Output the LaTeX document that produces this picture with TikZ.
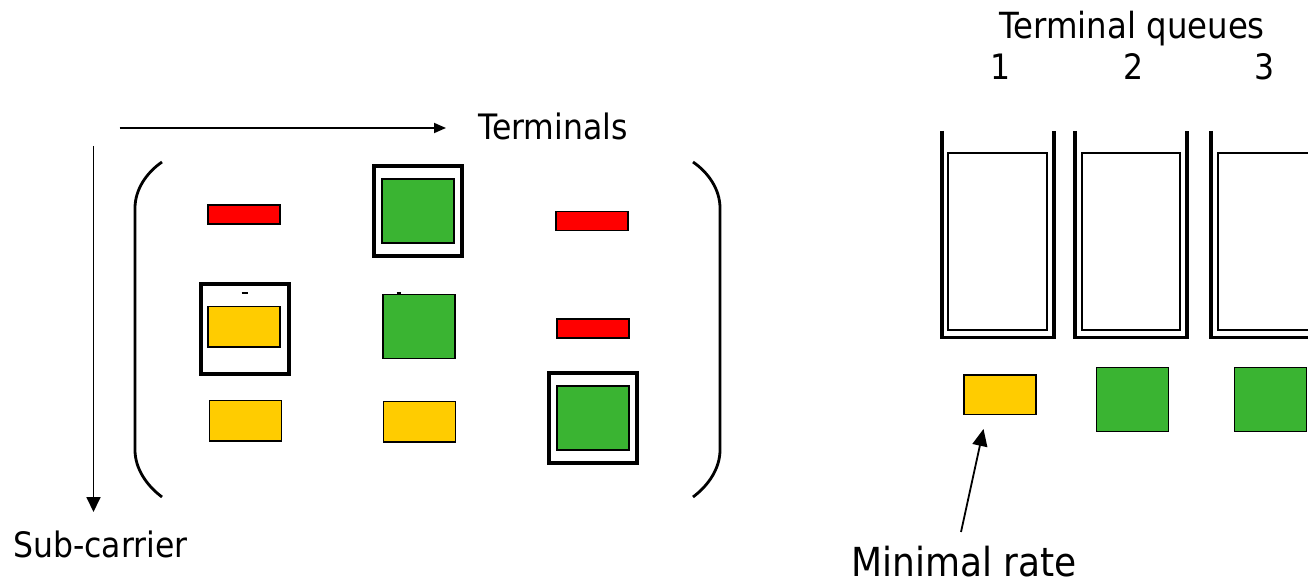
\documentclass[tikz,border=0pt]{standalone}
\usepackage{fontspec}
\setmainfont{DejaVu Sans}[FakeStretch=0.9]
\usetikzlibrary{arrows.meta}

\definecolor{cellred}{RGB}{255,0,0}
\definecolor{cellyellow}{RGB}{255,204,0}
\definecolor{cellgreen}{RGB}{58,180,50}

\tikzset{
  cell/.style={draw=black, line width=1.5pt, inner sep=0pt, minimum width=72pt},
  redcell/.style={cell, fill=cellred, minimum height=19pt},
  yellowcell/.style={cell, fill=cellyellow, minimum height=40.2pt},
  greencell/.style={cell, fill=cellgreen, minimum height=64pt},
  pick/.style={draw=black, line width=4pt, inner sep=0pt, minimum width=88pt, minimum height=90pt},
  qwall/.style={line width=3.7pt},
  qslot/.style={draw=black, line width=2pt, inner sep=0pt, minimum width=99pt, minimum height=177pt},
  paren/.style={line width=2.8pt},
  axis/.style={line width=1.8pt},
  label/.style={font=\fontsize{35}{42}\selectfont, inner sep=0pt},
  qlabel/.style={font=\fontsize{36}{43}\selectfont, inner sep=0pt},
  biglabel/.style={font=\fontsize{40}{47}\selectfont, inner sep=0pt},
}

\begin{document}
\begin{tikzpicture}[x=1pt, y=-1pt]
\useasboundingbox (0,0) rectangle (1308,585);
\clip (0,0) rectangle (1308,585);

% ---- allocation matrix: terminals (columns) by sub-carriers (rows)
\node[anchor=base west, label] (term) at (478,139.5) {Terminals};
\node[anchor=base west, label] (sub) at (13,557.5) {Sub-carrier};
\coordinate (hstart) at (119.5,128);
\coordinate (hend) at (446,128);
\coordinate (vstart) at (93.5,146);
\coordinate (vend) at (93.5,512);
\draw[axis, -{Triangle[length=12pt, width=10pt]}] (hstart) -- (hend);
\draw[axis, -{Triangle[length=15pt, width=14pt]}] (vstart) -- (vend);

% matrix brackets
\draw[paren] (162,162) .. controls (146,173) and (135,190) .. (135,208)
  -- (135,450) .. controls (135,468) and (146,485) .. (162,497);
\draw[paren] (693,162) .. controls (709,173) and (720,190) .. (720,208)
  -- (720,450) .. controls (720,468) and (709,485) .. (693,497);

% matrix entries
\node[redcell]    (c11) at (244.2,214.5) {};
\node[greencell]  (c12) at (418,210.8) {};
\node[redcell]    (c13) at (592,220.8) {};
\node[yellowcell] (c21) at (244.2,326.8) {};
\node[greencell]  (c22) at (419,326.3) {};
\node[redcell]    (c23) at (592.8,328.7) {};
\node[yellowcell] (c31) at (245.3,420.8) {};
\node[yellowcell] (c32) at (419.3,421.8) {};
\node[greencell]  (c33) at (593,418.2) {};

% chosen entries
\node[pick] (p12) at (417.5,210.7) {};
\node[pick] (p21) at (245,328.7) {};
\node[pick] (p33) at (592.9,418.4) {};

% small ticks above two entries
\draw[line width=1.6pt] (241.7,293) -- (248.3,293);
\draw[line width=1.6pt] (396.5,293) -- (400.5,293);

% ---- terminal queues
\node[anchor=base west, qlabel] (tq) at (999,38.5) {Terminal queues};
\node[anchor=base, label] (n1) at (1000.5,79.3) {1};
\node[anchor=base, label] (n2) at (1133.3,79.3) {2};
\node[anchor=base, label] (n3) at (1265,79.3) {3};

\draw[qwall] (942.3,131) -- (942.3,337.5) -- (1054,337.5) -- (1054,131);
\draw[qwall] (1075,131) -- (1075,337.5) -- (1187,337.5) -- (1187,131);
\draw[qwall] (1211,131) -- (1211,337.5) -- (1323,337.5) -- (1323,131);
\node[qslot] (q1) at (997.4,241.5) {};
\node[qslot, minimum width=98.5pt] (q2) at (1131.2,241.5) {};
\node[qslot] (q3) at (1267,241.5) {};

% rate units under each queue
\node[yellowcell, minimum height=39.5pt] (r1) at (1000,394.5) {};
\node[greencell] (r2) at (1132.5,399.5) {};
\node[greencell] (r3) at (1270.5,399.5) {};

\node[anchor=base west, biglabel] (mr) at (851,576) {Minimal rate};
\coordinate (mrtail) at (961,532);
\coordinate (mrtip) at (983.5,429);
\draw[axis, -{Triangle[length=17pt, width=15pt]}] (mrtail) -- (mrtip);
\end{tikzpicture}
\end{document}
